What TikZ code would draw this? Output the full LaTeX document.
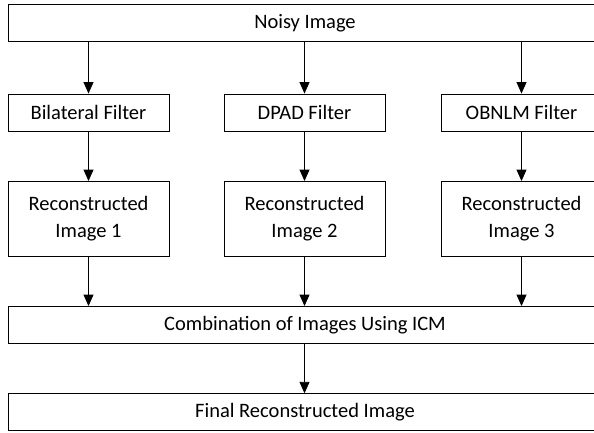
\documentclass[tikz,border=0pt]{standalone}
\usepackage{fontspec}
\setmainfont{Carlito}
\usetikzlibrary{arrows.meta}
\begin{document}
\begin{tikzpicture}[x=1pt,y=1pt,
  box/.style={draw=black, line width=0.9pt, rectangle, inner sep=0pt, align=center,
    font=\fontsize{20.5}{27}\selectfont},
  wide/.style={box, minimum width=594pt, minimum height=37pt},
  filt/.style={box, minimum width=161pt, minimum height=37.5pt},
  recon/.style={box, minimum width=161pt, minimum height=74.5pt},
  arr/.style={draw=black, line width=0.9pt, -{Triangle[width=10pt,length=11.5pt]}}]
\useasboundingbox (0,0) rectangle (594,432);
\node[wide] (noisy) at (305,409) {Noisy Image};
\node[filt] (f1) at (88.5,319.25) {Bilateral Filter};
\node[filt] (f2) at (304.5,319.25) {DPAD Filter};
\node[filt] (f3) at (521.5,319.25) {OBNLM Filter};
\node[recon] (r1) at (88.5,213.25) {Reconstructed\\Image 1};
\node[recon] (r2) at (304.5,213.25) {Reconstructed\\Image 2};
\node[recon] (r3) at (521.5,213.25) {Reconstructed\\Image 3};
\node[wide] (comb) at (305,107) {Combination of Images Using ICM};
\node[wide] (final) at (305,19.75) {Final Reconstructed Image};
\foreach \i in {1,2,3}{
  \draw[arr] (noisy.south -| f\i.north) -- (f\i.north);
  \draw[arr] (f\i.south) -- (r\i.north);
  \draw[arr] (r\i.south) -- (comb.north -| r\i.south);
}
\draw[arr] (comb.south -| f2.south) -- (final.north -| f2.south);
\end{tikzpicture}
\end{document}
